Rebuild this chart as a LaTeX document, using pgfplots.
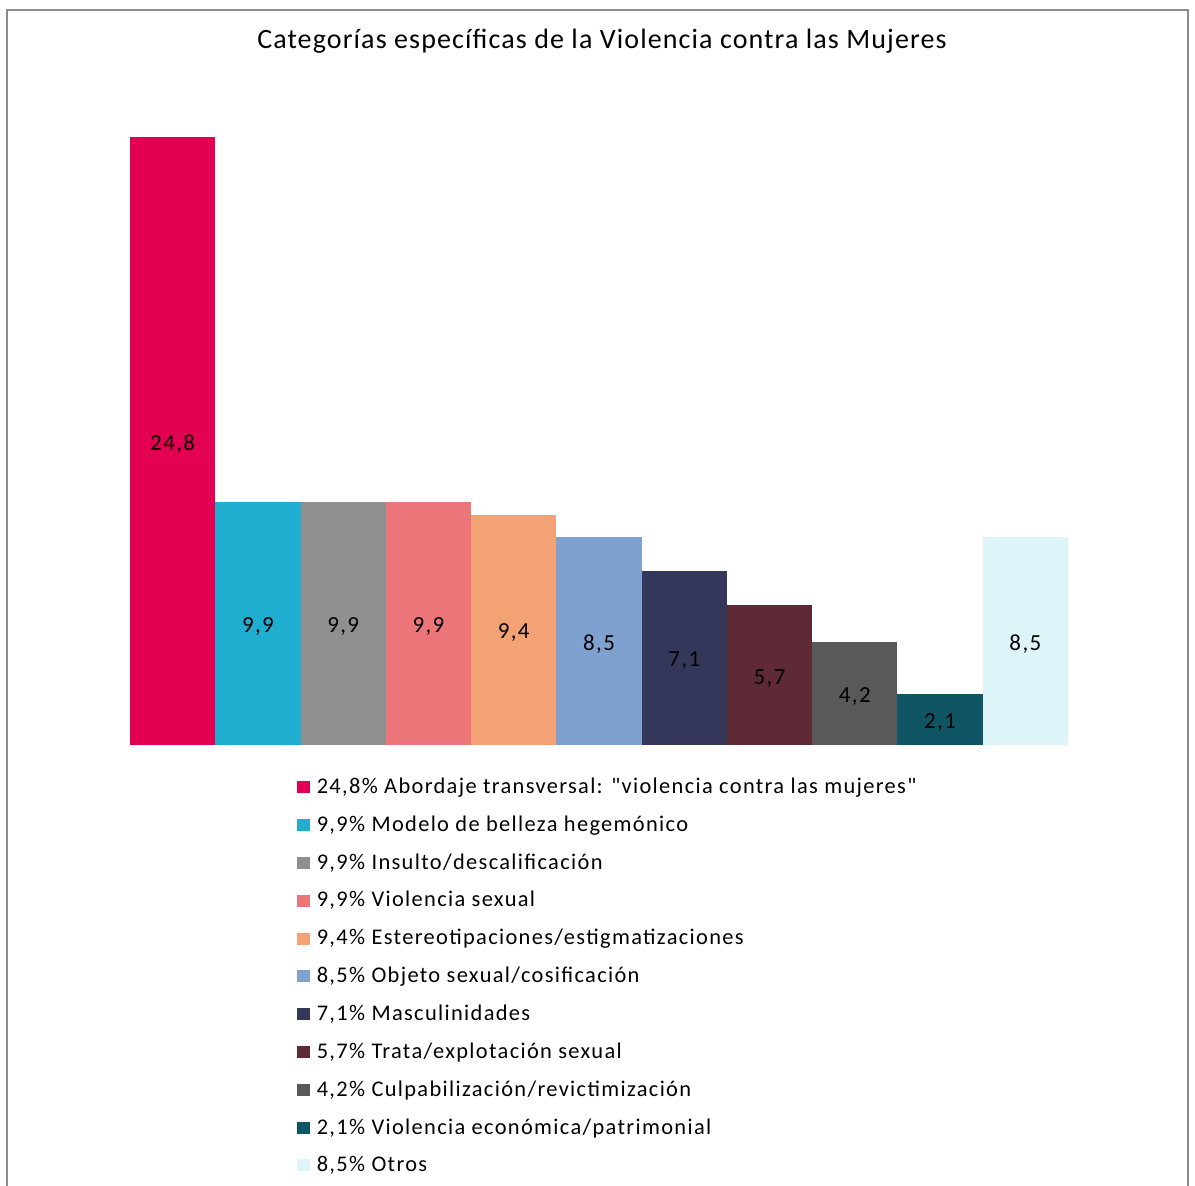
\documentclass[border=0pt]{standalone}
\usepackage{fontspec}
\setmainfont{Carlito}
\newfontfamily\legfont[LetterSpace=6]{Carlito}
\newfontfamily\titfont[LetterSpace=4]{Carlito}
\usepackage{pgfplots}
\pgfplotsset{compat=1.18}
\definecolor{c1}{HTML}{E30052}
\definecolor{c2}{HTML}{1FAECF}
\definecolor{c3}{HTML}{8F8F8F}
\definecolor{c4}{HTML}{EC7579}
\definecolor{c5}{HTML}{F2A275}
\definecolor{c6}{HTML}{7FA1D0}
\definecolor{c7}{HTML}{35375A}
\definecolor{c8}{HTML}{5E2A36}
\definecolor{c9}{HTML}{595959}
\definecolor{c10}{HTML}{0F5563}
\definecolor{c11}{HTML}{DDF4F8}
\begin{document}
\begin{tikzpicture}
\useasboundingbox (-65pt,-220pt) rectangle (532.5pt,372.5pt);
\draw[color=black!45, line width=0.8pt] (-61.5pt,-221pt) -- (-61.5pt,367.5pt) -- (529pt,367.5pt) -- (529pt,-221pt);
\node[font={\titfont\fontsize{14}{16}\selectfont}, anchor=center] at (236pt,352pt) {Categorías específicas de la Violencia contra las Mujeres};
\begin{axis}[
  at={(0pt,0pt)}, anchor=south west,
  width=469pt, height=304pt, scale only axis,
  xmin=-0.5, xmax=10.5, ymin=0, ymax=24.8,
  axis lines=none, ticks=none, clip=false,
  ybar, bar width=1, bar shift=0pt,
  every axis plot/.append style={draw=none},
  visualization depends on=y \as \rawy,
  nodes near coords={\pgfmathprintnumber[fixed,precision=1,fixed zerofill,use comma,assume math mode=true]{\pgfplotspointmeta}},
  every node near coord/.append style={anchor=center, text=black, font={\legfont\fontsize{11.5}{13}\selectfont}, shift={(axis direction cs:0,-\rawy/2)}, yshift=-1.5pt},
  legend style={draw=none, fill=none, at={(axis description cs:0.178,-0.05)}, anchor=north west,
    font={\legfont\fontsize{11.2}{13}\selectfont}, row sep=7.65pt, inner sep=0pt,
    nodes={inner ysep=1pt, inner xsep=3.2pt}},
  legend cell align=left,
  legend image code/.code={\fill[#1] (0pt,-3pt) rectangle (6.5pt,3pt);},
]
\addplot[fill=c1] coordinates {(0,24.8)};
\addlegendentry{24,8\% Abordaje transversal: "violencia contra las mujeres"}
\addplot[fill=c2] coordinates {(1,9.9)};
\addlegendentry{9,9\% Modelo de belleza hegemónico}
\addplot[fill=c3] coordinates {(2,9.9)};
\addlegendentry{9,9\% Insulto/descalificación}
\addplot[fill=c4] coordinates {(3,9.9)};
\addlegendentry{9,9\% Violencia sexual}
\addplot[fill=c5] coordinates {(4,9.4)};
\addlegendentry{9,4\% Estereotipaciones/estigmatizaciones}
\addplot[fill=c6] coordinates {(5,8.5)};
\addlegendentry{8,5\% Objeto sexual/cosificación}
\addplot[fill=c7] coordinates {(6,7.1)};
\addlegendentry{7,1\% Masculinidades}
\addplot[fill=c8] coordinates {(7,5.7)};
\addlegendentry{5,7\% Trata/explotación sexual}
\addplot[fill=c9] coordinates {(8,4.2)};
\addlegendentry{4,2\% Culpabilización/revictimización}
\addplot[fill=c10] coordinates {(9,2.1)};
\addlegendentry{2,1\% Violencia económica/patrimonial}
\addplot[fill=c11] coordinates {(10,8.5)};
\addlegendentry{8,5\% Otros}
\end{axis}
\end{tikzpicture}
\end{document}
